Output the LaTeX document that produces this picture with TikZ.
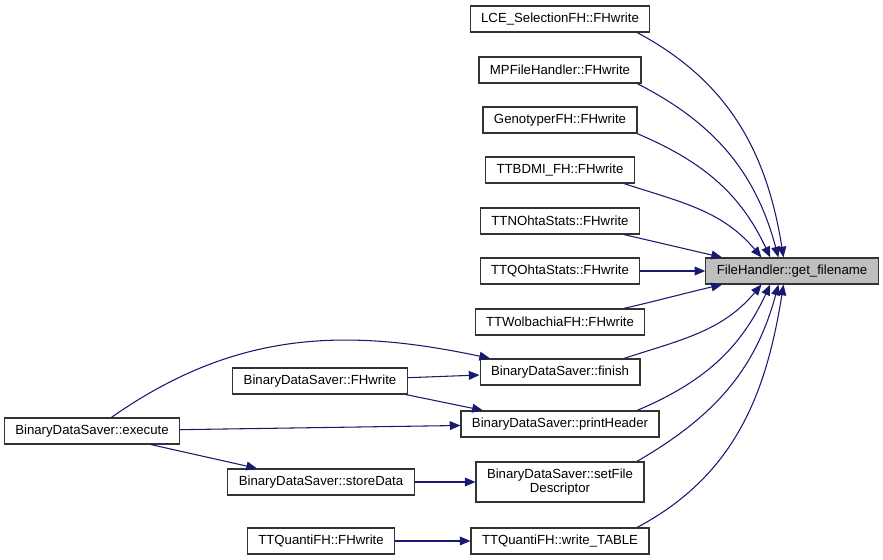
\documentclass[tikz,border=0pt]{standalone}
\usepackage{fontspec}
\setmainfont{Liberation Sans}
\usepackage{tikz}
\usetikzlibrary{arrows.meta}

\definecolor{edgeblue}{HTML}{191970}
\definecolor{boxgray}{HTML}{BFBFBF}

\tikzset{
	fn/.style={draw=black!80, line width=0.9pt, fill=white, inner xsep=8.2pt, inner ysep=0pt,
		minimum height=19.5pt, align=center, font=\fontsize{9.9}{10.2}\selectfont},
	target/.style={fn, fill=boxgray},
	call/.style={draw=edgeblue, line width=0.8pt, -{Triangle[length=8pt,width=6.6pt]}}
}

\begin{document}
\begin{tikzpicture}[x=0.75pt, y=0.75pt]
\useasboundingbox (0,0) rectangle (883,560);

	\node[target] (getfn) at (792,289) {FileHandler::get\_filename};

	\node[fn] (lce)    at (560,541) {LCE\_SelectionFH::FHwrite};
	\node[fn] (mpfh)   at (560,490) {MPFileHandler::FHwrite};
	\node[fn] (geno)   at (560,440) {GenotyperFH::FHwrite};
	\node[fn] (bdmi)   at (560,390) {TTBDMI\_FH::FHwrite};
	\node[fn] (nohta)  at (560,339) {TTNOhtaStats::FHwrite};
	\node[fn] (qohta)  at (560,289) {TTQOhtaStats::FHwrite};
	\node[fn] (wolb)   at (560,238) {TTWolbachiaFH::FHwrite};
	\node[fn] (finish) at (560,188) {BinaryDataSaver::finish};
	\node[fn] (header) at (560,136) {BinaryDataSaver::printHeader};
	\node[fn, minimum height=30pt] (setfd) at (560,78) {BinaryDataSaver::setFile\\Descriptor};
	\node[fn] (wtable) at (560,19)  {TTQuantiFH::write\_TABLE};

	\node[fn] (bfh)   at (320,179) {BinaryDataSaver::FHwrite};
	\node[fn] (store) at (321,78)  {BinaryDataSaver::storeData};
	\node[fn] (qfh)   at (321,19)  {TTQuantiFH::FHwrite};
	\node[fn] (exec)  at (92,129)  {BinaryDataSaver::execute};

	% callers of get_filename
	\draw[call] (lce.-10)   to[out=-28,in=99]   (getfn.122);
	\draw[call] (mpfh.-10)  to[out=-27,in=105]  (getfn.135);
	\draw[call] (geno.-10)  to[out=-23,in=115]  (getfn.148);
	\draw[call] (bdmi.-12)  to[out=-18,in=130]  (getfn.156);
	\draw[call] (nohta.-12) to[out=-13,in=167]  (getfn.169);
	\draw[call] (qohta) -- (getfn);
	\draw[call] (wolb.12)   to[out=13,in=-167]  (getfn.-169);
	\draw[call] (finish.12) to[out=18,in=-130]  (getfn.-156);
	\draw[call] (header.10) to[out=23,in=-115]  (getfn.-148);
	\draw[call] (setfd.15)  to[out=30,in=-105]  (getfn.-135);
	\draw[call] (wtable.10) to[out=28,in=-99]   (getfn.-122);

	% second level
	\draw[call] (exec.35) to[out=35,in=168] (finish.169);
	\draw[call] (bfh) -- (finish);
	\draw[call] (bfh.-9) -- (header.170);
	\draw[call] (exec) -- (header);
	\draw[call] (exec.-13) -- (store.168);
	\draw[call] (store) -- (setfd);
	\draw[call] (qfh) -- (wtable);
\end{tikzpicture}
\end{document}
